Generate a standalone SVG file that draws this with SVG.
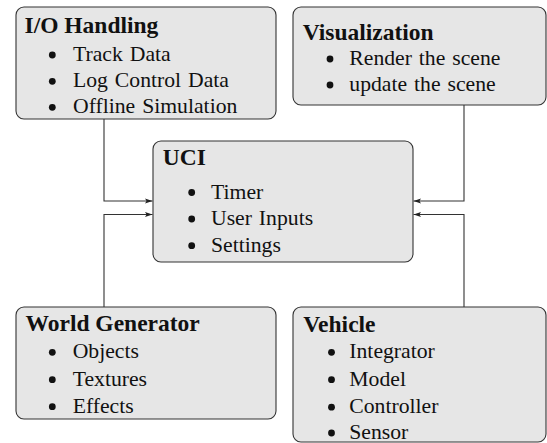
<svg xmlns="http://www.w3.org/2000/svg" width="547" height="443" viewBox="0 0 547 443" font-family="Liberation Serif">
<style>
text{font-family:"Liberation Serif",serif}
.box{fill:#e6e6e6;stroke:#333;stroke-width:1.1}
.hd{font-weight:bold;font-size:23.5px;fill:#111}
.li{font-size:21.7px;fill:#111;word-spacing:1.5px}
.dot{fill:#111}
.conn{fill:none;stroke:#333;stroke-width:1.1}
</style>
<defs>
<marker id="arr" markerWidth="8" markerHeight="6" refX="7.5" refY="3" orient="auto" markerUnits="userSpaceOnUse">
<path d="M0,0.6 L7.5,3 L0,5.4 L1.6,3 Z" fill="#222"/>
</marker>
</defs>
<rect width="547" height="443" fill="#fff"/>
<g id="connectors">
<path class="conn" marker-end="url(#arr)" d="M104 119 V201 H152.5"/>
<path class="conn" marker-end="url(#arr)" d="M104 307 V214.5 H152.5"/>
<path class="conn" marker-end="url(#arr)" d="M464 105 V201 H413.5"/>
<path class="conn" marker-end="url(#arr)" d="M464 307 V214.5 H413.5"/>
</g>
<g id="io">
<rect class="box" x="16" y="7" width="260" height="112" rx="8"/>
<text class="hd" font-family="Liberation Serif" x="24.5" y="33.3">I/O Handling</text>
<circle class="dot" cx="52.3" cy="55" r="3.4"/><text class="li" font-family="Liberation Serif" x="73" y="61">Track Data</text>
<circle class="dot" cx="52.3" cy="81.3" r="3.4"/><text class="li" font-family="Liberation Serif" x="73" y="87.3">Log Control Data</text>
<circle class="dot" cx="52.3" cy="107.3" r="3.4"/><text class="li" font-family="Liberation Serif" x="73" y="113.3">Offline Simulation</text>
</g>
<g id="vis">
<rect class="box" x="293" y="7" width="253" height="98" rx="8"/>
<text class="hd" font-family="Liberation Serif" x="302.7" y="40">Visualization</text>
<circle class="dot" cx="330" cy="59" r="3.4"/><text class="li" font-family="Liberation Serif" x="349.3" y="65">Render the scene</text>
<circle class="dot" cx="330" cy="85" r="3.4"/><text class="li" font-family="Liberation Serif" x="349.3" y="91">update the scene</text>
</g>
<g id="uci">
<rect class="box" x="153" y="141" width="260" height="121" rx="8"/>
<text class="hd" font-family="Liberation Serif" x="162.7" y="164.5">UCI</text>
<circle class="dot" cx="191.7" cy="192.5" r="3.4"/><text class="li" font-family="Liberation Serif" x="211" y="198.5">Timer</text>
<circle class="dot" cx="191.7" cy="219" r="3.4"/><text class="li" font-family="Liberation Serif" x="211" y="225">User Inputs</text>
<circle class="dot" cx="191.7" cy="245.7" r="3.4"/><text class="li" font-family="Liberation Serif" x="211" y="251.7">Settings</text>
</g>
<g id="world">
<rect class="box" x="16" y="307" width="260" height="112" rx="8"/>
<text class="hd" font-family="Liberation Serif" x="25.5" y="331">World Generator</text>
<circle class="dot" cx="52.3" cy="352.3" r="3.4"/><text class="li" font-family="Liberation Serif" x="72.7" y="358.3">Objects</text>
<circle class="dot" cx="52.3" cy="379.7" r="3.4"/><text class="li" font-family="Liberation Serif" x="72.7" y="385.7">Textures</text>
<circle class="dot" cx="52.3" cy="406.7" r="3.4"/><text class="li" font-family="Liberation Serif" x="72.7" y="412.7">Effects</text>
</g>
<g id="vehicle">
<rect class="box" x="293" y="307" width="253" height="135" rx="8"/>
<text class="hd" font-family="Liberation Serif" x="303.3" y="331.7">Vehicle</text>
<circle class="dot" cx="331.5" cy="352.3" r="3.4"/><text class="li" font-family="Liberation Serif" x="349.3" y="358.3">Integrator</text>
<circle class="dot" cx="331.5" cy="379.7" r="3.4"/><text class="li" font-family="Liberation Serif" x="349.3" y="385.7">Model</text>
<circle class="dot" cx="331.5" cy="407.2" r="3.4"/><text class="li" font-family="Liberation Serif" x="349.3" y="413.2">Controller</text>
<circle class="dot" cx="331.5" cy="433" r="3.4"/><text class="li" font-family="Liberation Serif" x="349.3" y="439">Sensor</text>
</g>
</svg>
